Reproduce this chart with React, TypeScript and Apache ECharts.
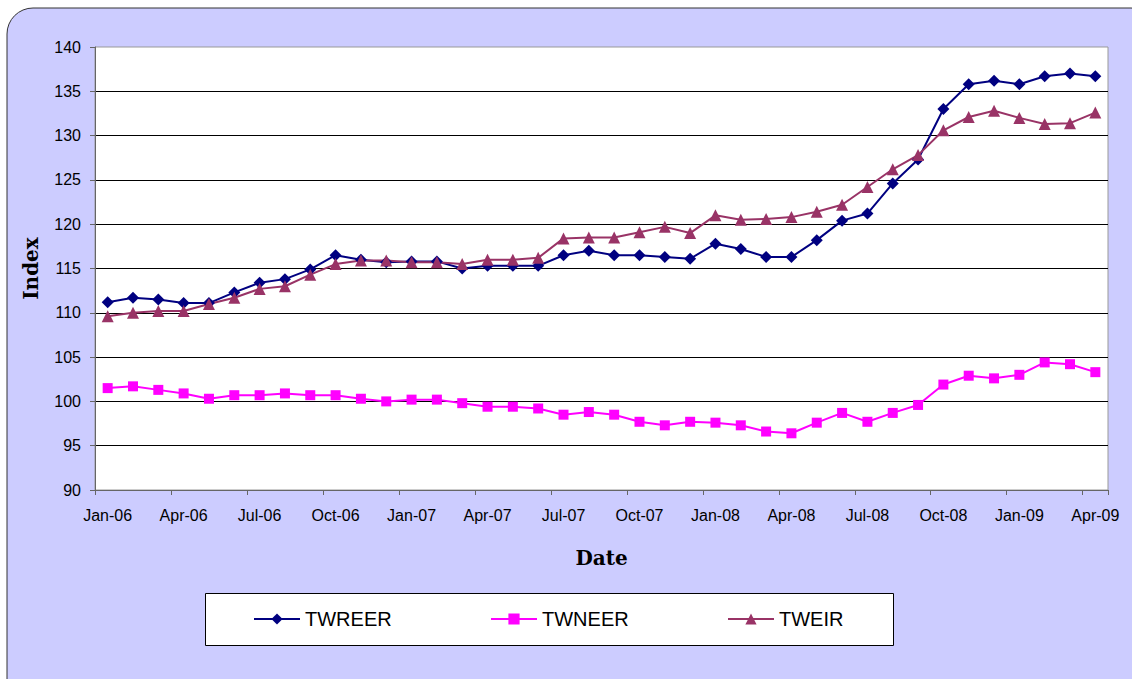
import React, { useEffect, useRef } from "react";
import * as echarts from "echarts";

const months = [
  "Jan-06", "Feb-06", "Mar-06", "Apr-06", "May-06", "Jun-06", "Jul-06", "Aug-06", "Sep-06", "Oct-06", "Nov-06", "Dec-06",
  "Jan-07", "Feb-07", "Mar-07", "Apr-07", "May-07", "Jun-07", "Jul-07", "Aug-07", "Sep-07", "Oct-07", "Nov-07", "Dec-07",
  "Jan-08", "Feb-08", "Mar-08", "Apr-08", "May-08", "Jun-08", "Jul-08", "Aug-08", "Sep-08", "Oct-08", "Nov-08", "Dec-08",
  "Jan-09", "Feb-09", "Mar-09", "Apr-09",
];

const twreer = [
  111.2, 111.7, 111.5, 111.1, 111.1, 112.3, 113.4, 113.8, 114.9, 116.5, 116.0, 115.7,
  115.8, 115.8, 115.0, 115.3, 115.3, 115.3, 116.5, 117.0, 116.5, 116.5, 116.3, 116.1,
  117.8, 117.2, 116.3, 116.3, 118.2, 120.4, 121.2, 124.6, 127.3, 133.0, 135.8, 136.2,
  135.8, 136.7, 137.0, 136.7,
];

const twneer = [
  101.5, 101.7, 101.3, 100.9, 100.3, 100.7, 100.7, 100.9, 100.7, 100.7, 100.3, 100.0,
  100.2, 100.2, 99.8, 99.4, 99.4, 99.2, 98.5, 98.8, 98.5, 97.7, 97.3, 97.7,
  97.6, 97.3, 96.6, 96.4, 97.6, 98.7, 97.7, 98.7, 99.6, 101.9, 102.9, 102.6,
  103.0, 104.4, 104.2, 103.3,
];

const tweir = [
  109.6, 110.0, 110.2, 110.2, 111.0, 111.7, 112.7, 113.0, 114.3, 115.5, 115.9, 115.9,
  115.7, 115.7, 115.5, 116.0, 116.0, 116.2, 118.4, 118.5, 118.5, 119.1, 119.7, 119.0,
  121.0, 120.5, 120.6, 120.8, 121.4, 122.2, 124.2, 126.2, 127.8, 130.6, 132.1, 132.8,
  132.0, 131.3, 131.4, 132.6,
];

const seriesNames = ["TWREER", "TWNEER", "TWEIR"];
const seriesColors = ["#000080", "#FF00FF", "#993366"];
const seriesSymbols = ["diamond", "rect", "triangle"];
const symbolSizes = [12, 10, 12];
const seriesData = [twreer, twneer, tweir];
const legendLefts = [254, 491, 728];

export default function App() {
  const ref = useRef<HTMLDivElement>(null);

  useEffect(() => {
    if (!ref.current) return;
    const chart = echarts.init(ref.current, null, { renderer: "svg" });
    const option: any = {
      animation: false,
      graphic: [
        {
          type: "rect",
          z: -10,
          shape: { x: 7, y: 8, width: 1150, height: 700, r: 26 },
          style: { fill: "#CCCCFF", stroke: "#333333", lineWidth: 1 },
          silent: true,
        },
        {
          type: "rect",
          z: -5,
          shape: { x: 95, y: 47, width: 1013, height: 443 },
          style: { fill: "#FFFFFF", stroke: "#999999", lineWidth: 1 },
          silent: true,
        },
        {
          type: "rect",
          z: -5,
          shape: { x: 205.5, y: 593.5, width: 688, height: 52 },
          style: { fill: "#FFFFFF", stroke: "#000000", lineWidth: 1 },
          silent: true,
        },
      ],
      legend: seriesNames.map((n, i) => ({
        data: [n],
        left: legendLefts[i] - 6,
        top: 604,
        itemWidth: 46,
        itemHeight: 14,
        textStyle: { fontFamily: "Liberation Sans, Arial", fontSize: 20, color: "#000" },
        selectedMode: false,
      })),
      grid: { left: 95, top: 47, right: 24, bottom: 189, containLabel: false },
      xAxis: {
        type: "category",
        data: months,
        boundaryGap: true,
        name: "Date",
        nameLocation: "middle",
        nameGap: 58,
        nameTextStyle: { fontFamily: "DejaVu Serif", fontWeight: "bold", fontSize: 20, color: "#000" },
        axisLine: { lineStyle: { color: "#666666", width: 1 } },
        axisTick: { show: true, interval: 2, length: 5, inside: false, lineStyle: { color: "#666666" } },
        axisLabel: { interval: 2, margin: 17, fontFamily: "Liberation Sans, Arial", fontSize: 16, color: "#000" },
        splitLine: { show: false },
      },
      yAxis: {
        type: "value",
        min: 90,
        max: 140,
        interval: 5,
        name: "Index",
        nameLocation: "middle",
        nameGap: 54,
        nameRotate: 90,
        nameTextStyle: { fontFamily: "DejaVu Serif", fontWeight: "bold", fontSize: 20, color: "#000" },
        axisLine: { show: true, lineStyle: { color: "#666666", width: 1 } },
        axisTick: { show: true, length: 5, lineStyle: { color: "#666666" } },
        axisLabel: { margin: 14, fontFamily: "Liberation Sans, Arial", fontSize: 16, color: "#000" },
        splitLine: { show: true, showMaxLine: false, showMinLine: false, lineStyle: { color: "#000000", width: 1 } },
      },
      series: seriesNames.map((n, i) => ({
        name: n,
        type: "line",
        data: seriesData[i],
        symbol: seriesSymbols[i],
        symbolSize: symbolSizes[i],
        showAllSymbol: true,
        itemStyle: { color: seriesColors[i] },
        lineStyle: { color: seriesColors[i], width: 2 },
      })),
    };
    chart.setOption(option);
    return () => chart.dispose();
  }, []);

  return (
    <div
      ref={ref}
      style={{ position: "fixed", left: 0, top: 0, width: 1132, height: 679, background: "#FFFFFF" }}
    />
  );
}
